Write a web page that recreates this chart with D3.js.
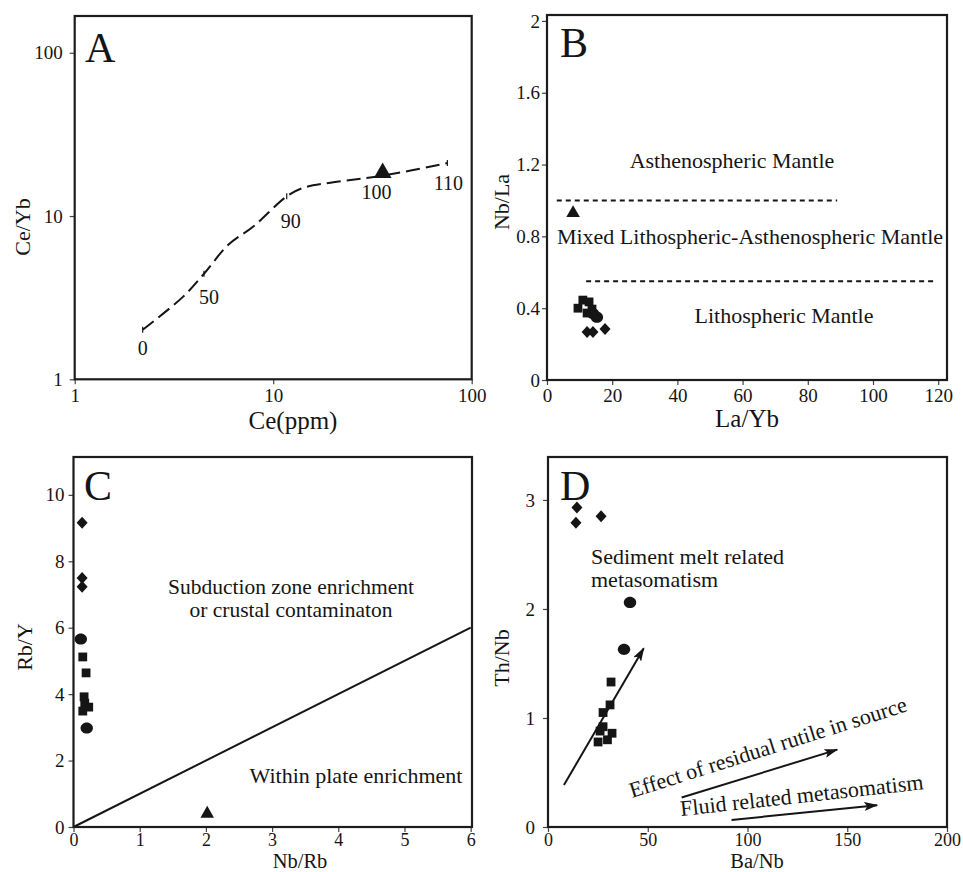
<!DOCTYPE html>
<html><head><meta charset="utf-8">
<script src="https://cdn.jsdelivr.net/npm/d3@7"></script>
<style>
body{margin:0;background:#fff}
text{font-family:"Liberation Serif","Times New Roman",serif;fill:#151515}
</style>
</head><body>
<svg id="chart" width="963" height="872"></svg>
<script>
// ---------------- DATA ----------------
// Panel A: mixing curve (Ce ppm vs Ce/Yb)
const mixCe   = [2.20, 3.52, 4.48, 5.94, 7.94, 11.7, 14.2, 20.1, 35.9, 75.4];
const mixCeYb = [2.01, 3.21, 4.43, 6.67, 8.63, 13.2, 14.9, 16.1, 17.7, 21.1];
const mixTickLabels = ["0", "50", "90", "100", "110"];
const mixTickCe     = [2.20, 4.48, 11.7, 35.9, 75.4];
const mixTickCeYb   = [2.01, 4.43, 13.2, 17.7, 21.1];
const aTriCe = [35.6];
const aTriCeYb = [18.4];
const aTicksX = [1, 10, 100];
const aTicksY = [1, 10, 100];

// Panel B: La/Yb vs Nb/La
const bTriLaYb = [8.0];            const bTriNbLa = [0.93];
const bSqLaYb = [9.5, 11.0, 12.9, 13.8, 12.3];  const bSqNbLa = [0.40, 0.445, 0.435, 0.395, 0.373];
const bCiLaYb = [14.1, 15.3];      const bCiNbLa = [0.37, 0.35];
const bDiLaYb = [12.3, 14.1, 17.8]; const bDiNbLa = [0.267, 0.267, 0.284];
const bDashUpperX = [3, 89];   const bDashUpperY = [1.0, 1.0];
const bDashLowerX = [12, 118.5]; const bDashLowerY = [0.55, 0.55];
const bTicksX = [0, 20, 40, 60, 80, 100, 120];
const bTicksY = [0, 0.4, 0.8, 1.2, 1.6, 2];
const bTickLabelsY = ["0", "0.4", "0.8", "1.2", "1.6", "2"];

// Panel C: Nb/Rb vs Rb/Y
const cTriNbRb = [2.02];  const cTriRbY = [0.40];
const cDiNbRb = [0.13, 0.13, 0.13]; const cDiRbY = [9.16, 7.50, 7.23];
const cCiNbRb = [0.11, 0.20]; const cCiRbY = [5.66, 2.98];
const cSqNbRb = [0.14, 0.19, 0.16, 0.17, 0.23, 0.14]; const cSqRbY = [5.12, 4.64, 3.92, 3.73, 3.61, 3.49];
const cLineX = [0, 6]; const cLineY = [0, 6];
const cTicksX = [0, 1, 2, 3, 4, 5, 6];
const cTicksY = [0, 2, 4, 6, 8, 10];

// Panel D: Ba/Nb vs Th/Nb
const dDiBaNb = [14.5, 14.0, 26.6]; const dDiThNb = [2.93, 2.79, 2.85];
const dCiBaNb = [41.1, 38.1]; const dCiThNb = [2.06, 1.63];
const dSqBaNb = [31.6, 31.1, 27.6, 26.1, 27.6, 32.1, 25.1, 29.8]; const dSqThNb = [1.33, 1.12, 1.05, 0.88, 0.92, 0.86, 0.78, 0.80];
const dArrowStartX = [8, 67, 92];   const dArrowStartY = [0.385, 0.27, 0.065];
const dArrowEndX   = [48, 145, 165]; const dArrowEndY  = [1.64, 0.71, 0.20];
const dTicksX = [0, 50, 100, 150, 200];
const dTicksY = [0, 1, 2, 3];

// ---------------- DRAWING ----------------
const svg = d3.select("#chart");
const INK = "#151515";

const defs = svg.append("defs");
defs.append("marker").attr("id", "ah")
  .attr("viewBox", "0 0 14 9").attr("refX", 13).attr("refY", 4.5)
  .attr("markerWidth", 14).attr("markerHeight", 9)
  .attr("markerUnits", "userSpaceOnUse").attr("orient", "auto")
  .append("path").attr("d", "M0,0 L14,4.5 L0,9 L3,4.5 Z").attr("fill", INK);

const diamondType = { draw(ctx) { const h = 6, w = 5.5; ctx.moveTo(0, -h); ctx.lineTo(w, 0); ctx.lineTo(0, h); ctx.lineTo(-w, 0); ctx.closePath(); } };
const squareType = { draw(ctx) { const s = 4.4; ctx.rect(-s, -s, 2 * s, 2 * s); } };
const circleType = { draw(ctx) {
  const rx = 6.2, ry = 5.6, k = 0.5523;
  ctx.moveTo(rx, 0);
  ctx.bezierCurveTo(rx, k * ry, k * rx, ry, 0, ry);
  ctx.bezierCurveTo(-k * rx, ry, -rx, k * ry, -rx, 0);
  ctx.bezierCurveTo(-rx, -k * ry, -k * rx, -ry, 0, -ry);
  ctx.bezierCurveTo(k * rx, -ry, rx, -k * ry, rx, 0);
  ctx.closePath();
} };

function points(g, xs, ys, x, y, kind, triSize) {
  let type;
  if (kind === "triangle") type = d3.symbolTriangle;
  else if (kind === "diamond") type = diamondType;
  else if (kind === "square") type = squareType;
  else type = circleType;
  const sym = d3.symbol().type(type).size(triSize || 80);
  g.selectAll(null).data(xs.map((v, i) => [v, ys[i]])).join("path")
    .attr("transform", d => `translate(${x(d[0])},${y(d[1])})`)
    .attr("d", sym).attr("fill", INK);
}

function frame(g, x, y) {
  const [x0, x1] = x.range(), [y0, y1] = y.range();
  g.append("rect").attr("x", x0).attr("y", y1).attr("width", x1 - x0).attr("height", y0 - y1)
    .attr("fill", "none").attr("stroke", "#1c1c1c").attr("stroke-width", 2.2);
}

function axes(g, x, y, tx, ty, fx, fy, padX, padY, fontX) {
  const ax = g.append("g").attr("transform", `translate(0,${y.range()[0]})`)
    .call(d3.axisBottom(x).tickValues(tx).tickFormat(fx).tickSize(5).tickPadding(padX));
  const ay = g.append("g").attr("transform", `translate(${x.range()[0]},0)`)
    .call(d3.axisLeft(y).tickValues(ty).tickFormat(fy).tickSize(5).tickPadding(padY));
  [ax, ay].forEach((a, k) => {
    a.select(".domain").remove();
    a.selectAll("line").attr("stroke", "#444").attr("stroke-width", 1.2);
    a.selectAll("text").attr("font-size", k === 0 ? (fontX || 19) : 19)
      .attr("font-family", "Liberation Serif").attr("fill", "#1a1a1a");
  });
}

function label(g, txt, px, py, size, anchor, rotate) {
  const t = g.append("text").text(txt).attr("font-size", size).attr("text-anchor", anchor || "start");
  if (rotate) t.attr("transform", `translate(${px},${py}) rotate(${rotate})`);
  else t.attr("x", px).attr("y", py);
  return t;
}

// ----- Panel A -----
{
  const g = svg.append("g");
  const x = d3.scaleLog().domain([1, 100]).range([74.7, 471.7]);
  const y = d3.scaleLog().domain([1, 168]).range([379.3, 16]);
  axes(g, x, y, aTicksX, aTicksY, d3.format("d"), d3.format("d"), 4, 7);
  const line = d3.line().x(d => x(d[0])).y(d => y(d[1])).curve(d3.curveCatmullRom);
  g.append("path").datum(mixCe.map((v, i) => [v, mixCeYb[i]]))
    .attr("d", line).attr("fill", "none").attr("stroke", INK).attr("stroke-width", 2)
    .attr("stroke-dasharray", "14,6");
  const offs = [[0, 25], [5, 30], [4, 32], [-7, 23], [1, 27]];
  mixTickCe.forEach((v, i) => {
    const px = x(v), py = y(mixTickCeYb[i]);
    if (i !== 3) g.append("line").attr("x1", px).attr("x2", px).attr("y1", py - 3).attr("y2", py + 3)
      .attr("stroke", INK).attr("stroke-width", 1.2);
    label(g, mixTickLabels[i], px + offs[i][0], py + offs[i][1], 20, "middle");
  });
  points(g, aTriCe, aTriCeYb, x, y, "triangle", 135);
  frame(g, x, y);
  label(g, "A", 85, 62, 42);
  label(g, "Ce(ppm)", 293, 429, 25, "middle");
  label(g, "Ce/Yb", 30, 227, 22, "middle", -90);
}

// ----- Panel B -----
{
  const g = svg.append("g");
  const x = d3.scaleLinear().domain([0, 122.7]).range([547, 947]);
  const y = d3.scaleLinear().domain([0, 2.033]).range([380, 15]);
  axes(g, x, y, bTicksX, bTicksY, d3.format("d"), (d, i) => bTickLabelsY[i], 4, 2);
  const line = d3.line().x(d => x(d[0])).y(d => y(d[1]));
  [[bDashUpperX, bDashUpperY], [bDashLowerX, bDashLowerY]].forEach(([xs, ys]) => {
    g.append("path").datum(xs.map((v, i) => [v, ys[i]])).attr("d", line)
      .attr("fill", "none").attr("stroke", INK).attr("stroke-width", 2).attr("stroke-dasharray", "5,4");
  });
  points(g, bSqLaYb, bSqNbLa, x, y, "square");
  points(g, bCiLaYb, bCiNbLa, x, y, "circle");
  points(g, bDiLaYb, bDiNbLa, x, y, "diamond");
  points(g, bTriLaYb, bTriNbLa, x, y, "triangle", 80);
  label(g, "Asthenospheric Mantle", 732, 168, 22, "middle");
  label(g, "Mixed Lithospheric-Asthenospheric Mantle", 750, 244, 22, "middle");
  label(g, "Lithospheric Mantle", 784, 323, 22, "middle");
  frame(g, x, y);
  label(g, "B", 560, 57, 42);
  label(g, "La/Yb", 747, 427, 25, "middle");
  label(g, "Nb/La", 509, 202, 22, "middle", -90);
}

// ----- Panel C -----
{
  const g = svg.append("g");
  const x = d3.scaleLinear().domain([0, 6.02]).range([73.5, 472]);
  const y = d3.scaleLinear().domain([0, 11.14]).range([827, 457]);
  axes(g, x, y, cTicksX, cTicksY, d3.format("d"), d3.format("d"), 1, 4, 18);
  const line = d3.line().x(d => x(d[0])).y(d => y(d[1]));
  g.append("path").datum(cLineX.map((v, i) => [v, cLineY[i]])).attr("d", line)
    .attr("fill", "none").attr("stroke", INK).attr("stroke-width", 2);
  points(g, cDiNbRb, cDiRbY, x, y, "diamond");
  points(g, cCiNbRb, cCiRbY, x, y, "circle");
  points(g, cSqNbRb, cSqRbY, x, y, "square");
  points(g, cTriNbRb, cTriRbY, x, y, "triangle", 80);
  label(g, "Subduction zone enrichment", 291, 594, 21.5, "middle");
  label(g, "or crustal contaminaton", 291, 617, 21.5, "middle");
  label(g, "Within plate enrichment", 356, 783, 22, "middle");
  frame(g, x, y);
  label(g, "C", 84, 500, 42);
  label(g, "Nb/Rb", 300, 868, 20.5, "middle");
  label(g, "Rb/Y", 32, 647, 22, "middle", -90);
}

// ----- Panel D -----
{
  const g = svg.append("g");
  const x = d3.scaleLinear().domain([0, 200]).range([548, 947]);
  const y = d3.scaleLinear().domain([0, 3.394]).range([827, 457]);
  axes(g, x, y, dTicksX, dTicksY, d3.format("d"), d3.format("d"), 1, 8, 18);
  points(g, dDiBaNb, dDiThNb, x, y, "diamond");
  points(g, dCiBaNb, dCiThNb, x, y, "circle");
  points(g, dSqBaNb, dSqThNb, x, y, "square");
  dArrowStartX.forEach((v, i) => {
    g.append("line").attr("x1", x(v)).attr("y1", y(dArrowStartY[i]))
      .attr("x2", x(dArrowEndX[i])).attr("y2", y(dArrowEndY[i]))
      .attr("stroke", INK).attr("stroke-width", 2).attr("marker-end", "url(#ah)");
  });
  label(g, "Sediment melt related", 591, 564, 22);
  label(g, "metasomatism", 591, 587, 22);
  label(g, "Effect of residual rutile in source", 632, 798, 22, "start", -17.5);
  label(g, "Fluid related metasomatism", 681, 816, 22, "start", -6.3);
  frame(g, x, y);
  label(g, "D", 560, 500, 42);
  label(g, "Ba/Nb", 757, 868, 20.5, "middle");
  label(g, "Th/Nb", 509, 658, 22, "middle", -90);
}
</script>
</body></html>
